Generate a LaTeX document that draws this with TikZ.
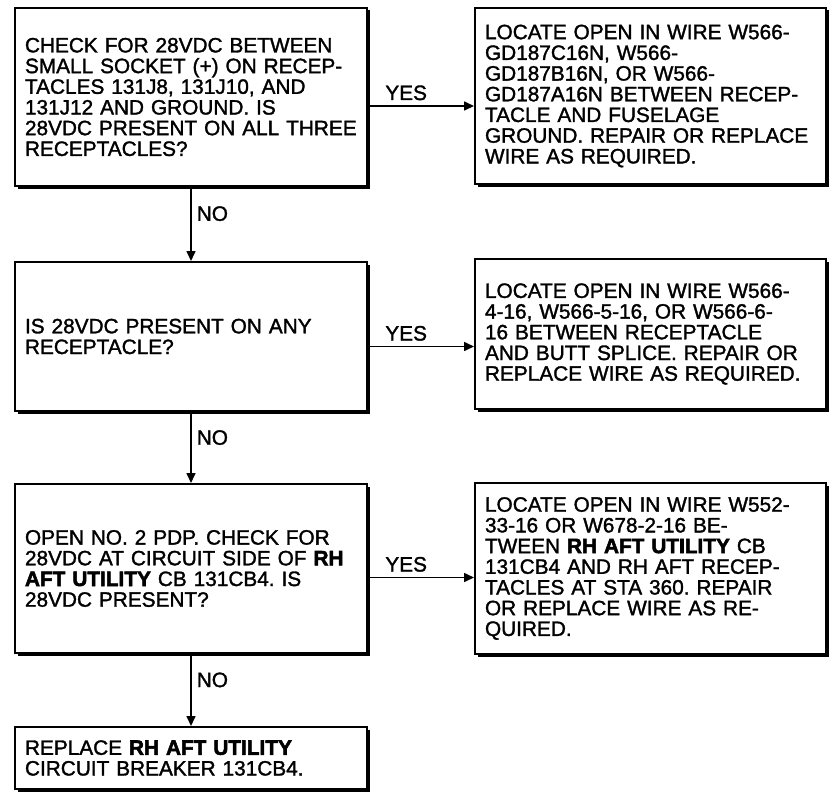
\documentclass[tikz,border=0pt]{standalone}
\usepackage{fontspec}
\setmainfont{Liberation Sans}[UprightFeatures={FakeBold=1.5}, BoldFeatures={FakeBold=2.5}]
\usepackage{tikz}
\usetikzlibrary{arrows.meta, positioning, shadows}
\frenchspacing

\begin{document}
\begin{tikzpicture}[x=1pt, y=-1pt,
  box/.style={draw, line width=2pt, fill=white, anchor=north west, align=left,
    inner xsep=10pt, font=\fontsize{20.8}{20.7}\selectfont,
    drop shadow={shadow xshift=2.5pt, shadow yshift=-2.5pt, fill=black, opacity=1}},
  flow/.style={line width=1.6pt, -{Triangle[length=10pt, width=9pt]}},
  lbl/.style={font=\fontsize{20.8}{21}\selectfont, inner sep=2pt}]
  \useasboundingbox (0,0) rectangle (829,792);

  % checks (left column)
  \node[box, text width=332pt, minimum height=178pt] (q1) at (14,7)
    {CHECK FOR 28VDC BETWEEN\\ SMALL SOCKET (+) ON RECEP-\\ TACLES 131J8, 131J10, AND\\
     131J12 AND GROUND. IS\\ 28VDC PRESENT ON ALL THREE\\ RECEPTACLES?};
  \node[box, text width=332pt, minimum height=149pt] (q2) at (14,261)
    {IS 28VDC PRESENT ON ANY\\ RECEPTACLE?};
  \node[box, text width=332pt, minimum height=169pt] (q3) at (14,483)
    {OPEN NO. 2 PDP. CHECK FOR\\ 28VDC AT CIRCUIT SIDE OF \textbf{RH}\\
     \textbf{AFT UTILITY} CB 131CB4. IS\\ 28VDC PRESENT?};
  \node[box, text width=332pt, minimum height=62pt] (fix4) at (14,726)
    {REPLACE \textbf{RH AFT UTILITY}\\ CIRCUIT BREAKER 131CB4.};

  % repairs (right column)
  \node[box, text width=331pt, minimum height=176pt] (fix1) at (474,7)
    {LOCATE OPEN IN WIRE W566-\\ GD187C16N, W566-\\ GD187B16N, OR W566-\\
     GD187A16N BETWEEN RECEP-\\ TACLE AND FUSELAGE\\ GROUND. REPAIR OR REPLACE\\
     WIRE AS REQUIRED.};
  \node[box, text width=331pt, minimum height=150pt] (fix2) at (474,258)
    {LOCATE OPEN IN WIRE W566-\\ 4-16, W566-5-16, OR W566-6-\\ 16 BETWEEN RECEPTACLE\\
     AND BUTT SPLICE. REPAIR OR\\ REPLACE WIRE AS REQUIRED.};
  \node[box, text width=331pt, minimum height=171pt] (fix3) at (474,482)
    {LOCATE OPEN IN WIRE W552-\\ 33-16 OR W678-2-16 BE-\\ TWEEN \textbf{RH AFT UTILITY} CB\\
     131CB4 AND RH AFT RECEP-\\ TACLES AT STA 360. REPAIR\\ OR REPLACE WIRE AS RE-\\
     QUIRED.};

  % NO branches
  \draw[flow] (q1.south) -- (q2.north) node[lbl, pos=0.36, right=3pt] {NO};
  \draw[flow] (q2.south) -- (q3.north) node[lbl, pos=0.36, right=3pt] {NO};
  \draw[flow] (q3.south) -- (fix4.north) node[lbl, pos=0.36, right=3pt] {NO};

  % YES branches
  \coordinate (y1) at ([yshift=-9pt]q1.east);
  \coordinate (y2) at ([yshift=-10pt]q2.east);
  \coordinate (y3) at ([yshift=-9pt]q3.east);
  \draw[flow] (y1) -- (y1 -| fix1.west) node[lbl, pos=0.36, above=3pt] {YES};
  \draw[flow] (y2) -- (y2 -| fix2.west) node[lbl, pos=0.36, above=3pt] {YES};
  \draw[flow] (y3) -- (y3 -| fix3.west) node[lbl, pos=0.36, above=3pt] {YES};
\end{tikzpicture}
\end{document}
